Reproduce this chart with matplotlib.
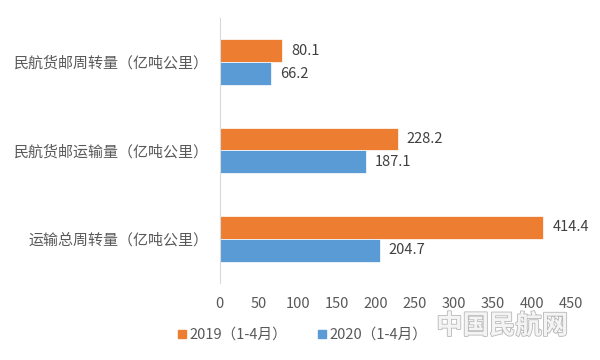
import matplotlib
matplotlib.use("Agg")
import matplotlib.pyplot as plt
import matplotlib.patheffects as pe
from matplotlib.lines import Line2D
import numpy as np

categories = ["运输总周转量（亿吨公里）", "民航货邮运输量（亿吨公里）", "民航货邮周转量（亿吨公里）"]
vals_2019 = [414.4, 228.2, 80.1]
vals_2020 = [204.7, 187.1, 66.2]
series_names = ["2019（1-4月）", "2020（1-4月）"]
xticks = [0, 50, 100, 150, 200, 250, 300, 350, 400, 450]

plt.rcParams['font.family'] = ['Noto Sans CJK SC', 'DejaVu Sans']
c19 = "#ED7D31"
c20 = "#5B9BD5"
gray = "#595959"

fig = plt.figure(figsize=(6, 3.6), dpi=100)
ax = fig.add_axes([0.366, 0.214, 0.586, 0.736])

y = np.arange(len(categories))
h = 0.26
b19 = ax.barh(y + h / 2, vals_2019, height=h, color=c19, edgecolor="white", linewidth=0.5)
b20 = ax.barh(y - h / 2, vals_2020, height=h, color=c20, edgecolor="white", linewidth=0.5)

for bars, vals in ((b19, vals_2019), (b20, vals_2020)):
    for bar, v in zip(bars, vals):
        ax.annotate("%.1f" % v, (v, bar.get_y() + bar.get_height() / 2),
                    xytext=(6.5, 0), textcoords="offset points",
                    va="center", ha="left", fontsize=10.5, color="#404040")

ax.set_xlim(0, 450)
ax.set_ylim(-0.5, 2.5)
ax.set_xticks(xticks)
ax.set_xticklabels([str(t) for t in xticks], color=gray, fontsize=10.5)
ax.set_yticks(y)
ax.set_yticklabels(categories, color=gray, fontsize=10.8)
ax.tick_params(length=0)
ax.tick_params(axis="x", pad=10)
ax.tick_params(axis="y", pad=8)
for s in ("top", "right", "bottom"):
    ax.spines[s].set_visible(False)
ax.spines["left"].set_color("#D9D9D9")

handles = [Line2D([], [], marker="s", linestyle="", color=c19, markersize=6),
           Line2D([], [], marker="s", linestyle="", color=c20, markersize=6)]
leg = fig.legend(handles, series_names, loc="center", bbox_to_anchor=(0.503, 0.07),
                 ncol=2, frameon=False, fontsize=10.5, handletextpad=0.1,
                 columnspacing=2.0, handlelength=0.8)
for t in leg.get_texts():
    t.set_color(gray)

# watermark
fig.text(0.837, 0.094, "中国民航网", fontsize=19, ha="center", va="center",
         color="#F4F4F4", fontweight="bold",
         path_effects=[pe.withStroke(linewidth=1.2, foreground="#B8B8B8")])

fig.savefig("out.png", dpi=100)
